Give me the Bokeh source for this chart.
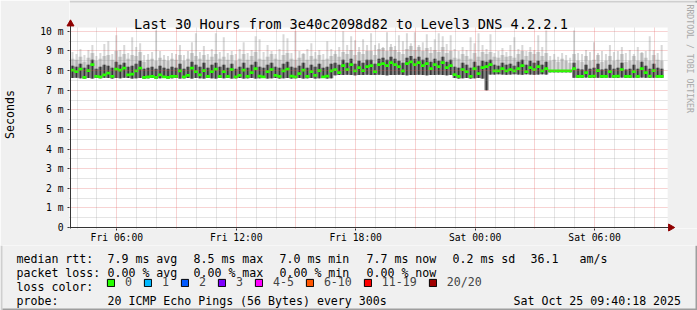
import datetime as dt
from math import pi

from bokeh.plotting import figure
from bokeh.layouts import column
from bokeh.models import (FixedTicker, Grid, Label, Arrow, Legend, ColumnDataSource,
                          LegendItem, DatetimeTickFormatter, Range1d, BoxAnnotation)
from bokeh.embed import file_html
from bokeh.resources import INLINE

MONO = "DejaVu Sans Mono"

# ---------------- data ----------------
title_text = "Last 30 Hours from 3e40c2098d82 to Level3 DNS 4.2.2.1"
start_time = dt.datetime(2025, 10, 24, 3, 40, 18)
end_time = dt.datetime(2025, 10, 25, 9, 40, 18)
step_minutes = 12

median_ms = [
    8.03, 7.95, 8.08, 7.66, 8.00, 8.30, 7.70, 7.68, 7.78, 7.87,
    7.71, 8.08, 8.03, 8.12, 7.78, 7.82, 7.98, 8.12, 7.66, 7.68,
    7.70, 7.66, 7.78, 7.68, 7.66, 7.70, 7.71, 7.98, 7.68, 7.75,
    8.12, 7.95, 7.78, 8.00, 7.70, 7.95, 8.08, 7.70,
    7.95, 7.70, 8.05, 7.68, 7.75, 8.02, 7.70, 7.90, 8.10, 7.72,
    7.68, 7.95, 8.05, 7.75, 7.70, 7.98, 8.08, 7.72, 7.68, 7.85,
    8.02, 7.70, 7.95, 7.75, 8.00, 7.68, 7.72, 7.98, 8.05, 7.90,
    8.25, 8.05, 8.30, 7.98, 8.15, 8.00, 8.20,
    8.25, 7.95, 8.30, 8.35, 8.25, 8.40, 8.30, 8.20, 7.98, 8.35,
    8.45, 8.30, 8.40, 8.25, 8.35, 8.10, 8.30, 8.20, 8.40, 8.15,
    8.25, 7.80, 7.70, 8.05, 7.95, 7.70, 8.10, 7.85, 8.15, 8.20,
    8.30, 7.98, 7.98, 8.10, 7.98, 8.05, 7.98,
    8.10, 8.25, 7.95, 8.15, 8.05, 8.20, 7.98, 8.10, 7.98, 7.98,
    7.98, 7.98, 7.98, 7.98, 8.10, 7.70, 7.70, 7.90, 7.70, 7.72,
    8.00, 7.70, 7.70, 7.95, 7.70, 7.72, 8.05, 7.70, 7.70, 7.95,
    7.70, 8.10, 7.90, 7.72, 8.00, 7.70, 7.70,
]

min_ms = [
    7.62, 7.63, 7.61, 7.60, 7.62, 7.60, 7.62, 7.61, 7.63, 7.62,
    7.60, 7.62, 7.61, 7.63, 7.62, 7.60, 7.61, 7.62, 7.60, 7.61,
    7.62, 7.60, 7.61, 7.62, 7.60, 7.61, 7.62, 7.60, 7.61, 7.62,
    7.60, 7.62, 7.61, 7.60, 7.62, 7.61, 7.60, 7.62,
    7.61, 7.62, 7.60, 7.61, 7.62, 7.60, 7.61, 7.62, 7.60, 7.61,
    7.62, 7.60, 7.61, 7.62, 7.60, 7.61, 7.62, 7.60, 7.61, 7.62,
    7.60, 7.61, 7.62, 7.60, 7.61, 7.62, 7.60, 7.61, 7.76, 7.78,
    7.77, 7.79, 7.78, 7.76, 7.78, 7.77, 7.79,
    7.78, 7.77, 7.79, 7.78, 7.76, 7.78, 7.77, 7.79, 7.78, 7.76,
    7.78, 7.77, 7.79, 7.78, 7.76, 7.78, 7.77, 7.79, 7.78, 7.76,
    7.77, 7.62, 7.60, 7.61, 7.62, 7.60, 7.61, 7.62, 7.60, 7.00,
    7.80, 7.80, 7.81, 7.80, 7.79, 7.80, 7.81,
    7.80, 7.79, 7.81, 7.80, 7.79, 7.80, 7.81, 7.80, 7.92, 7.92,
    7.92, 7.92, 7.92, 7.92, 7.64, 7.63, 7.64, 7.65, 7.63, 7.64,
    7.64, 7.63, 7.65, 7.64, 7.63, 7.64, 7.65, 7.63, 7.64, 7.64,
    7.63, 7.65, 7.64, 7.63, 7.64, 7.65, 7.63,
]

dark_top_ms = [
    8.25, 8.20, 8.35, 8.15, 8.30, 8.55, 8.10, 8.20, 8.30, 8.25,
    8.15, 8.45, 8.30, 8.40, 8.20, 8.25, 8.35, 8.50, 8.10, 8.15,
    8.20, 8.10, 8.25, 8.15, 8.10, 8.20, 8.15, 8.35, 8.10, 8.20,
    8.45, 8.30, 8.20, 8.40, 8.15, 8.30, 8.40, 8.20,
    8.30, 8.15, 8.35, 8.10, 8.20, 8.40, 8.15, 8.30, 8.45, 8.20,
    8.15, 8.30, 8.40, 8.20, 8.15, 8.35, 8.45, 8.20, 8.15, 8.25,
    8.40, 8.15, 8.30, 8.20, 8.35, 8.15, 8.20, 8.35, 8.40, 8.30,
    8.55, 8.40, 8.60, 8.35, 8.50, 8.40, 8.55,
    8.55, 8.35, 8.60, 8.65, 8.55, 8.70, 8.60, 8.50, 8.40, 8.65,
    8.75, 8.60, 8.70, 8.55, 8.65, 8.45, 8.60, 8.50, 8.70, 8.45,
    8.55, 8.20, 8.15, 8.40, 8.30, 8.15, 8.45, 8.25, 8.50, 8.45,
    8.55, 8.30, 8.25, 8.40, 8.30, 8.35, 8.25,
    8.45, 8.55, 8.30, 8.50, 8.40, 8.50, 8.30, 8.45, 8.00, 8.00,
    8.00, 8.00, 8.00, 8.00, 8.40, 8.10, 8.05, 8.30, 8.10, 8.15,
    8.35, 8.05, 8.10, 8.30, 8.10, 8.15, 8.40, 8.05, 8.10, 8.30,
    8.10, 8.45, 8.25, 8.10, 8.35, 8.15, 8.10,
]

mid_top_ms = [
    8.60, 8.55, 8.70, 8.45, 8.65, 8.90, 8.50, 8.60, 8.75, 8.80,
    8.55, 9.00, 8.70, 8.85, 8.60, 8.80, 8.75, 8.95, 8.45, 8.55,
    8.60, 8.50, 8.65, 8.55, 8.50, 8.60, 8.55, 8.80, 8.50, 8.60,
    8.90, 8.75, 8.60, 8.80, 8.55, 8.70, 8.85, 8.60,
    8.70, 8.55, 8.80, 8.50, 8.60, 8.85, 8.55, 8.75, 8.95, 8.60,
    8.55, 8.70, 8.85, 8.60, 8.55, 8.80, 8.90, 8.60, 8.55, 8.65,
    8.85, 8.55, 8.75, 8.60, 8.80, 8.55, 8.60, 8.75, 8.85, 8.70,
    8.95, 8.85, 9.05, 8.80, 8.95, 8.85, 9.00,
    9.00, 8.80, 9.10, 9.15, 9.00, 9.20, 9.05, 8.95, 8.85, 9.10,
    9.25, 9.05, 9.20, 9.00, 9.15, 8.90, 9.05, 8.95, 9.20, 8.90,
    9.00, 8.65, 8.60, 8.85, 8.75, 8.60, 8.90, 8.70, 8.95, 8.85,
    8.95, 8.70, 8.65, 8.80, 8.70, 8.75, 8.65,
    8.85, 9.00, 8.75, 8.95, 8.85, 8.95, 8.75, 8.90, 8.50, 8.55,
    8.45, 8.60, 8.50, 8.40, 8.85, 8.50, 8.45, 8.75, 8.50, 8.55,
    8.80, 8.45, 8.50, 8.75, 8.50, 8.55, 8.85, 8.45, 8.50, 8.75,
    8.50, 8.90, 8.65, 8.50, 8.80, 8.55, 8.50,
]

max_ms = [
    8.95, 8.85, 9.10, 8.80, 9.05, 9.30, 8.75, 8.90, 9.35, 9.50,
    8.85, 9.80, 9.05, 9.30, 8.90, 9.70, 9.20, 9.40, 8.80, 8.85,
    8.95, 10.05, 9.00, 8.80, 8.75, 8.90, 8.85, 9.30, 8.80, 9.00,
    9.45, 9.90, 8.95, 9.25, 8.85, 9.10, 9.90, 8.95,
    9.70, 8.90, 9.00, 8.85, 9.10, 9.45, 8.90, 9.05, 9.75, 9.60,
    8.95, 9.30, 9.00, 8.85, 9.10, 9.85, 9.65, 8.90, 10.00, 9.00,
    8.90, 9.10, 9.40, 8.95, 9.05, 8.85, 9.50, 9.10, 9.00, 9.20,
    10.00, 9.30, 9.75, 9.55, 9.20, 9.60, 9.30,
    9.90, 9.30, 9.40, 9.20, 9.95, 9.35, 9.25, 9.80, 9.50, 9.90,
    9.40, 9.95, 9.30, 9.45, 9.85, 9.20, 9.60, 9.90, 9.75, 9.35,
    9.80, 9.10, 9.00, 9.20, 9.05, 9.70, 9.40, 9.90, 9.30, 9.10,
    9.85, 8.90, 9.00, 9.15, 8.95, 9.30, 9.70,
    9.10, 9.30, 9.00, 9.20, 9.05, 9.80, 9.20, 10.05, 8.75, 8.85,
    8.70, 8.90, 8.80, 8.65, 10.05, 8.90, 8.85, 9.05, 8.95, 9.45,
    8.90, 9.00, 8.85, 9.30, 8.95, 9.00, 9.20, 8.90, 9.05, 8.85,
    9.20, 8.95, 9.00, 9.75, 9.05, 8.90, 9.30,
]

y_tick_values = [0, 1, 2, 3, 4, 5, 6, 7, 8, 9, 10]
y_tick_labels = ["0", "1 m", "2 m", "3 m", "4 m", "5 m", "6 m", "7 m", "8 m", "9 m", "10 m"]
x_tick_times = [dt.datetime(2025, 10, 24, 6), dt.datetime(2025, 10, 24, 12),
                dt.datetime(2025, 10, 24, 18), dt.datetime(2025, 10, 25, 0),
                dt.datetime(2025, 10, 25, 6)]

loss_labels = ["0", "1", "2", "3", "4-5", "6-10", "11-19", "20/20"]
loss_colors = ["#26ff00", "#00b8ff", "#0059ff", "#7e00ff", "#ff00ff", "#ff5500", "#ff0000", "#a00000"]

rtt_stats = ["7.9 ms avg", "8.5 ms max", "7.0 ms min", "7.7 ms now", "0.2 ms sd", "36.1", "am/s"]
loss_stats = ["0.00 % avg", "0.00 % max", "0.00 % min", "0.00 % now"]
probe_text = "20 ICMP Echo Pings (56 Bytes) every 300s"
stamp_text = "Sat Oct 25 09:40:18 2025"
credit_text = "RRDTOOL / TOBI OETIKER"

# ---------------- helpers / layout constants ----------------
EPOCH = dt.datetime(1970, 1, 1)


def to_ms(t):
    return (t - EPOCH).total_seconds() * 1000.0


MIN_PER_PX = 3.0          # 30 h over 600 px
PX_PER_MS = 19.7          # pixels per millisecond of rtt
X0_PX, Y0_PX = 67, 228    # page position of (start_time, 0 ms)
FRAME_L, FRAME_B = 66, 229


def px_time(gx):
    return to_ms(start_time + dt.timedelta(minutes=(gx - X0_PX) * MIN_PER_PX))


def px_val(gy):
    return (Y0_PX - gy) / PX_PER_MS


step = dt.timedelta(minutes=step_minutes)
step_ms = step.total_seconds() * 1000.0
n = len(median_ms)
edges = [to_ms(start_time + i * step) for i in range(n + 1)]
centers = [e + step_ms / 2 for e in edges[:-1]]


def ext(a):
    return list(a) + [a[-1]]


BACK = "#f0f0f0"
ARROW = "#900000"
AXIS = "#333333"

# ---------------- main graph ----------------
p = figure(width=697, height=245, x_axis_type="datetime",
           x_range=Range1d(px_time(FRAME_L), px_time(697)),
           y_range=Range1d(px_val(FRAME_B), px_val(0)),
           output_backend="svg", toolbar_location=None, frame_align=False,
           min_border_left=FRAME_L, min_border_right=0, min_border_top=0, min_border_bottom=245 - FRAME_B,
           background_fill_color="white", border_fill_color=BACK, outline_line_color=None)
p.xgrid.visible = False
p.ygrid.visible = False

# smoke
p.varea_step(x=edges, y1=ext(min_ms), y2=ext(mid_top_ms), step_mode="after", fill_color="#d8d8d8")
p.vbar(x=centers, width=step_ms * 0.5, bottom=min_ms, top=max_ms, fill_color="#d8d8d8", line_color=None)
p.vbar(x=centers, width=step_ms * 0.5, bottom=min_ms, top=mid_top_ms, fill_color="#b8b8b8", line_color=None)
p.varea_step(x=edges, y1=ext(min_ms), y2=ext(dark_top_ms), step_mode="after", fill_color="#828282")
p.vbar(x=centers, width=step_ms * 0.4, bottom=min_ms, top=dark_top_ms, fill_color="#363636", line_color=None)
# median, coloured by loss (0 loss everywhere)
med_lo = [m - 0.07 for m in median_ms]
med_hi = [m + 0.07 for m in median_ms]
p.varea_step(x=edges, y1=ext(med_lo), y2=ext(med_hi), step_mode="after", fill_color=loss_colors[0])

# grids drawn over the data, as rrdtool does
gray_x, red_x = [], []
t = dt.datetime(2025, 10, 24, 4)
while t < end_time:
    (red_x if t.hour % 3 == 0 else gray_x).append(to_ms(t))
    t += dt.timedelta(hours=1)
gray_y = [v + 0.5 for v in y_tick_values[:-1]]
red_y = y_tick_values[1:]
for dim, ticks, col, alpha in [(0, gray_x, "#8c8c8c", 0.45), (1, gray_y, "#8c8c8c", 0.45),
                               (0, red_x, "#e05050", 0.5), (1, red_y, "#e05050", 0.5)]:
    p.add_layout(Grid(dimension=dim, ticker=FixedTicker(ticks=ticks), grid_line_color=col,
                      grid_line_alpha=alpha, grid_line_dash="1 1", grid_line_width=1, level="guide"))

# surrounding background outside the canvas (top strip and right strip)
canvas_top = px_val(27)
p.add_layout(BoxAnnotation(bottom=canvas_top, fill_color=BACK, fill_alpha=1, line_color=None, level="guide"))
p.add_layout(BoxAnnotation(left=to_ms(end_time), fill_color=BACK, fill_alpha=1, line_color=None, level="guide"))
# 3d frame shading
p.add_layout(BoxAnnotation(bottom=px_val(2), fill_color="#cfcfcf", fill_alpha=1, line_color=None, level="guide"))
p.add_layout(BoxAnnotation(left=px_time(695), bottom=px_val(2), fill_color="#9e9e9e", fill_alpha=1,
                           line_color=None, level="guide"))

# axes
for ax in (p.xaxis[0], p.yaxis[0]):
    ax.axis_line_color = None
    ax.major_tick_line_color = AXIS
    ax.major_tick_in = 0
    ax.major_tick_out = 2
    ax.minor_tick_in = 0
    ax.minor_tick_out = 0
    ax.major_label_text_font = MONO
    ax.major_label_text_font_size = "9.7px"
    ax.major_label_text_color = "black"

p.yaxis.ticker = FixedTicker(ticks=y_tick_values)
p.yaxis.major_label_overrides = {v: s for v, s in zip(y_tick_values, y_tick_labels)}
p.yaxis.major_label_standoff = 4
p.yaxis.axis_label = "Seconds"
p.yaxis.axis_label_text_font = MONO
p.yaxis.axis_label_text_font_size = "11.6px"
p.yaxis.axis_label_text_font_style = "normal"
p.yaxis.axis_label_text_color = "black"
p.yaxis.axis_label_standoff = 20

p.xaxis.ticker = FixedTicker(ticks=[to_ms(t) for t in x_tick_times])
p.xaxis.formatter = DatetimeTickFormatter(hours="%a %H:%M", hourmin="%a %H:%M", days="%a %H:%M",
                                          minutes="%a %H:%M", strip_leading_zeros=False)
p.xaxis.major_label_standoff = 1

# axis lines (extending to the arrow heads) and the arrow heads themselves
p.add_layout(Arrow(start=None, end=None, x_start=to_ms(start_time), y_start=px_val(231),
                   x_end=to_ms(start_time), y_end=px_val(22), line_color=AXIS, line_width=1))
p.add_layout(Arrow(start=None, end=None, x_start=px_time(64), y_start=0,
                   x_end=px_time(670), y_end=0, line_color=AXIS, line_width=1))
p.scatter(x=[to_ms(start_time)], y=[px_val(23.5)], marker="triangle", size=7,
          fill_color=ARROW, line_color=ARROW, level="overlay")
p.scatter(x=[px_time(670)], y=[0], marker="triangle", angle=-pi / 2, size=7,
          fill_color=ARROW, line_color=ARROW, level="overlay")


def glabel(fig, fl, fb, gx, gy, text, size="11.6px", align="left", baseline="alphabetic",
           color="black", angle=0.0):
    fig.add_layout(Label(x=gx - fl, y=fb - gy, x_units="screen", y_units="screen", text=text,
                         text_font=MONO, text_font_size=size, text_align=align,
                         text_baseline=baseline, text_color=color, angle=angle))


glabel(p, FRAME_L, FRAME_B, 347.5, 24, title_text, size="13.6px", align="center")
glabel(p, FRAME_L, FRAME_B, 686, 5, credit_text, size="8.2px", baseline="middle", color="#a8a8a8",
       angle=-pi / 2)

# ---------------- legend / statistics block ----------------
LT = 245  # page y of the top of this block
q = figure(width=697, height=310 - LT, x_range=Range1d(0, 697), y_range=Range1d(0, 310 - LT),
           output_backend="svg", toolbar_location=None, x_axis_location=None, y_axis_location=None,
           frame_align=False,
           min_border=0, background_fill_color=BACK, border_fill_color=BACK, outline_line_color=None)
q.xgrid.visible = False
q.ygrid.visible = False
q.add_layout(BoxAnnotation(right=2, fill_color="#cfcfcf", fill_alpha=1, line_color=None))
q.add_layout(BoxAnnotation(left=695, fill_color="#9e9e9e", fill_alpha=1, line_color=None))
q.add_layout(BoxAnnotation(top=2, left=2, fill_color="#9e9e9e", fill_alpha=1, line_color=None))

QB = 310
rtt_x = [107, 193, 279, 366, 452, 530, 579]
glabel(q, 0, QB, 16, 258, "median rtt:")
for x, s in zip(rtt_x, rtt_stats):
    glabel(q, 0, QB, x, 258, s)
glabel(q, 0, QB, 16, 272, "packet loss:")
for x, s in zip(rtt_x, loss_stats):
    glabel(q, 0, QB, x, 272, s)
glabel(q, 0, QB, 16, 286, "loss color:")
glabel(q, 0, QB, 16, 300, "probe:")
glabel(q, 0, QB, 107, 300, probe_text)
glabel(q, 0, QB, 513, 300, stamp_text)

# loss-colour swatches: a legend whose glyphs take their colour from the loss colour list
nan = float("nan")
swatch_src = ColumnDataSource(dict(left=[nan] * len(loss_colors), right=[nan] * len(loss_colors),
                                   top=[nan] * len(loss_colors), bottom=[nan] * len(loss_colors),
                                   color=loss_colors))
sw = q.quad(left="left", right="right", top="top", bottom="bottom", source=swatch_src,
            fill_color="color", line_color="black")
items = [LegendItem(label=lbl, renderers=[sw], index=i) for i, lbl in enumerate(loss_labels)]
legend = Legend(items=items, orientation="horizontal", location=(106, QB - 289),
                glyph_width=9, glyph_height=9, label_standoff=10, spacing=11, padding=0, margin=0,
                border_line_color=None, background_fill_alpha=0, label_width=1,
                label_text_font=MONO, label_text_font_size="11.6px", label_height=9)
q.add_layout(legend)

layout = column(p, q, spacing=0)
open("out.html", "w").write(file_html(layout, INLINE))
